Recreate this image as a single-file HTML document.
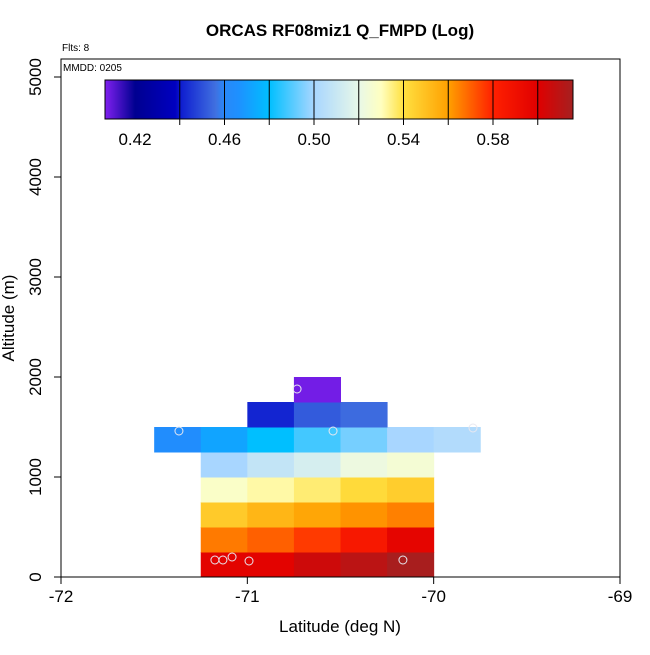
<!DOCTYPE html>
<html><head><meta charset="utf-8"><style>
body{margin:0;background:#fff}
svg text{font-family:"Liberation Sans",sans-serif}
</style></head><body>
<svg id="c" width="650" height="650" xmlns="http://www.w3.org/2000/svg">
<text x="340" y="36" font-size="17" font-weight="bold" text-anchor="middle">ORCAS RF08miz1 Q_FMPD (Log)</text>
<text x="62" y="51" font-size="10">Flts: 8</text>
<g id="cells"></g><g id="pts"></g><g id="cbar"></g><g id="axes"></g>
<rect x="61" y="59" width="559" height="518" fill="none" stroke="#000"/>
<text x="63" y="71" font-size="10">MMDD: 0205</text>
<text x="340" y="632" font-size="17" text-anchor="middle">Latitude (deg N)</text>
<text x="14" y="318" font-size="17" text-anchor="middle" transform="rotate(-90 14 318)">Altitude (m)</text>
</svg>
<script>
const latBins=[-71.5,-71.25,-71.0,-70.75,-70.5,-70.25,-70.0,-69.75];
const altBins=[0,250,500,750,1000,1250,1500,1750];
const row0=[0.598,0.598,0.605,0.610,0.615];
const row1=[0.566,0.570,0.576,0.585,0.597];
const row2=[0.547,0.553,0.558,0.562,0.565];
const row3=[0.528,0.532,0.536,0.542,0.546];
const row4=[0.500,0.508,0.514,0.522,0.525];
const row5=[0.464,0.472,0.480,0.488,0.494,0.500,0.503];
const row6=[0.442,0.452,0.455];
const row7=[0.408];
const rowStarts=[1,1,1,1,1,0,2,3];
const rows=[row0,row1,row2,row3,row4,row5,row6,row7];
const ptLat=[-71.174,-71.131,-71.082,-70.991,-70.165,-70.733,-71.367,-70.540,-69.789];
const ptAlt=[170,170,200,160,170,1880,1460,1460,1490];
const xTicks=[-72,-71,-70,-69];
const yTicks=[0,1000,2000,3000,4000,5000];
const cbTicks=[0.42,0.46,0.50,0.54,0.58];
const cbLines=[0.44,0.46,0.48,0.50,0.52,0.54,0.56,0.58,0.60];
const cStops=[[0.4066,'#8020f0'],[0.42,'#000090'],[0.438,'#0000c0'],[0.441,'#1020d0'],[0.456,'#4070e0'],[0.46,'#2888f8'],[0.466,'#1e90ff'],[0.48,'#00bfff'],[0.50,'#a8d6ff'],[0.52,'#e8f8e8'],[0.53,'#ffffc0'],[0.54,'#ffe040'],[0.56,'#ffa000'],[0.58,'#ff2000'],[0.60,'#e00000'],[0.6158,'#a52020']];
const NS='http://www.w3.org/2000/svg';
const X=v=>61+(v+72)*559/3, Y=a=>577-a*0.1;
const CB=v=>135+(v-0.42)*(493-135)/0.16;
function hx(c){return [1,3,5].map(i=>parseInt(c.substr(i,2),16));}
function col(v){
 if(v<=cStops[0][0])return cStops[0][1];
 for(let i=1;i<cStops.length;i++){if(v<=cStops[i][0]){const a=hx(cStops[i-1][1]),b=hx(cStops[i][1]);const t=(v-cStops[i-1][0])/(cStops[i][0]-cStops[i-1][0]);return 'rgb('+a.map((x,k)=>Math.round(x+(b[k]-x)*t)).join(',')+')';}}
 return cStops[cStops.length-1][1];}
function mk(t,at,p){const e=document.createElementNS(NS,t);for(const k in at)e.setAttribute(k,at[k]);p.appendChild(e);return e;}
const cells=document.getElementById('cells');
rows.forEach((r,ri)=>r.forEach((v,ci)=>{
 const li=rowStarts[ri]+ci;const x0=X(latBins[li]),x1=X(latBins[li]+0.25);
 const e=mk('rect',{x:x0,y:Y(altBins[ri]+250),width:x1-x0+0.5,height:25.5,fill:col(v)},cells);
 
 
}));
const pts=document.getElementById('pts');
ptLat.forEach((la,i)=>{const e=mk('circle',{cx:X(la),cy:Y(ptAlt[i]),r:4,fill:'none',stroke:'#e8e8f0','stroke-width':1},pts);
 
 });
const cb=document.getElementById('cbar');
for(let px=105;px<573;px++){const v=0.42+(px+0.5-135)*0.16/(493-135);mk('rect',{x:px,y:80,width:1.2,height:39,fill:col(v)},cb);}
cbLines.forEach(v=>{const e=mk('line',{x1:CB(v),x2:CB(v),y1:80,y2:125,stroke:'#000','stroke-width':1},cb);
 
 });
const fr=mk('rect',{x:105,y:80,width:468,height:39,fill:'none',stroke:'#000'},cb);


cbTicks.forEach(v=>{const t=mk('text',{x:CB(v),y:145,'font-size':17,'text-anchor':'middle'},cb);t.textContent=v.toFixed(2);
 
 });
const ax=document.getElementById('axes');
xTicks.forEach(v=>{mk('line',{x1:X(v),x2:X(v),y1:577,y2:584,stroke:'#000'},ax);
 const t=mk('text',{x:X(v),y:602,'font-size':17,'text-anchor':'middle'},ax);t.textContent=v;
 
 });
yTicks.forEach(v=>{mk('line',{x1:54,x2:61,y1:Y(v),y2:Y(v),stroke:'#000'},ax);
 const t=mk('text',{x:41,y:Y(v),'font-size':17,'text-anchor':'middle',transform:'rotate(-90 41 '+Y(v)+')'},ax);t.textContent=v;
 
 });
</script>
</body></html>
